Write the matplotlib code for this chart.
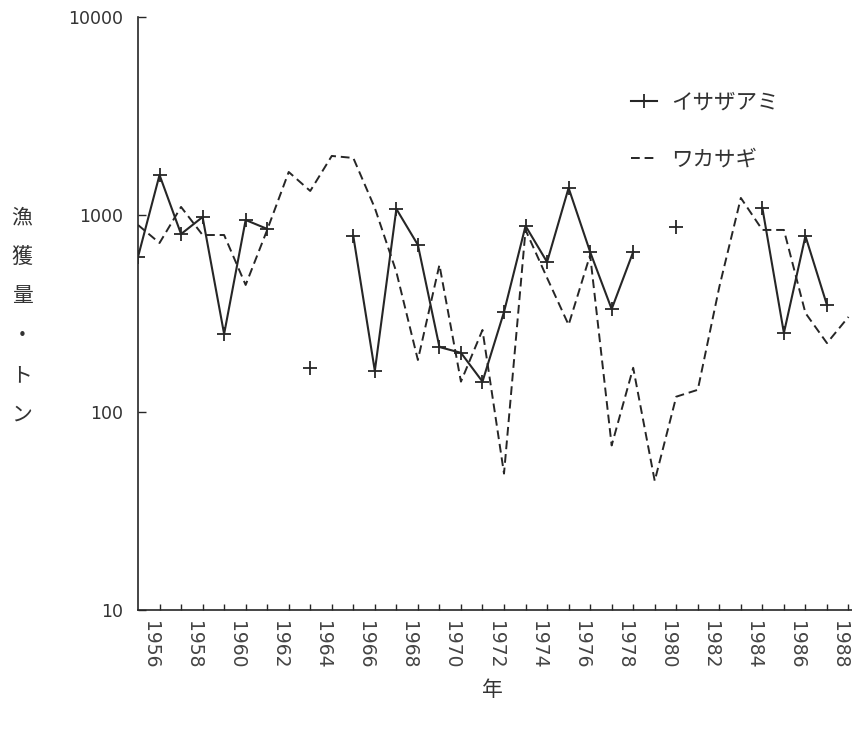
import numpy as np
import matplotlib
matplotlib.use('Agg')
import matplotlib.pyplot as plt
import matplotlib.transforms as mtransforms

# annual catch (t), None = no record for that year
years = list(range(1955, 1989))
isazaami = [611, 1588, 798, 973, 249, 940, 847, None, 168, None,
            780, 162, 1069, 703, 214, 200, 143, 322, 877, 576,
            1365, 648, 333, 648, None, 866, None, None, None, 1081,
            252, 780, 349, None]
wakasagi = [887, 719, 1094, 789, 789, 441, 837, 1644, 1318, 1982,
            1936, 1081, 513, 184, 557, 143, 261, 49, 837, 479,
            277, 625, 68, 168, 45, 120, 130, 431, 1215, 837,
            837, 318, 224, 304]
series_names = ['イサザアミ', 'ワカサギ']
ylabel_chars = ['漁', '獲', '量', '・', 'ト', 'ン']
xlabel_text = '年'
yticks = [10, 100, 1000, 10000]
xticks = list(range(1956, 1989))

jp_font = ['Noto Sans CJK JP', 'DejaVu Sans']
ink = '#262626'

def to_arr(vals):
    return np.array([np.nan if v is None else v for v in vals], dtype=float)

fig = plt.figure(figsize=(8.52, 7.31), dpi=100)
ax = fig.add_axes([138/852, 121/731, (852-138)/852, 593/731])

ax.plot(years, to_arr(isazaami), color=ink, lw=1.5, marker='+',
        ms=10, mew=1.3, label=series_names[0])
ax.plot(years, to_arr(wakasagi), color=ink, lw=1.4, ls=(0, (4.5, 2.5)),
        label=series_names[1])

ax.set_yscale('log')
ax.set_ylim(10, 10000)
ax.set_xlim(1955, 1955 + (852-138)/21.53)

ax.yaxis.set_major_locator(matplotlib.ticker.FixedLocator(yticks))
ax.yaxis.set_minor_locator(matplotlib.ticker.NullLocator())
ax.set_yticklabels([str(v) for v in yticks])
ax.set_xticks(xticks)
ax.set_xticklabels([str(y) if y % 2 == 0 else '' for y in xticks],
                   rotation=270)

ax.tick_params(axis='y', direction='in', length=6, width=1.0, color=ink,
               labelsize=12.5, labelcolor='#333333', pad=11)
ax.tick_params(axis='x', direction='in', length=4.5, width=1.0, color=ink,
               labelsize=13.5, labelcolor='#444444', pad=8)

# year labels sit a little left of their ticks
shift = mtransforms.ScaledTranslation(-9/100, 0, fig.dpi_scale_trans)
for lbl in ax.get_xticklabels():
    lbl.set_transform(lbl.get_transform() + shift)

for side in ['top', 'right']:
    ax.spines[side].set_visible(False)
for side in ['left', 'bottom']:
    ax.spines[side].set_color(ink)
    ax.spines[side].set_linewidth(1.2)

# vertical axis title, one character per line
char_y = np.linspace(217, 415, len(ylabel_chars))
for ch, yp in zip(ylabel_chars, char_y):
    fig.text(22/852, 1 - yp/731, ch, family=jp_font, fontsize=15,
             color='#333333', ha='center', va='center')
fig.text(492/852, 1 - 690/731, xlabel_text, family=jp_font, fontsize=15,
         color='#333333', ha='center', va='center')

leg = ax.legend(loc='upper left', bbox_to_anchor=(612/852, 1 - 72/731),
                bbox_transform=fig.transFigure, frameon=False,
                prop={'family': jp_font, 'size': 15.5}, handlelength=1.2,
                handletextpad=0.65, labelspacing=1.65, numpoints=1)
for t in leg.get_texts():
    t.set_color('#333333')

fig.savefig('out.png', dpi=100, facecolor='white')
